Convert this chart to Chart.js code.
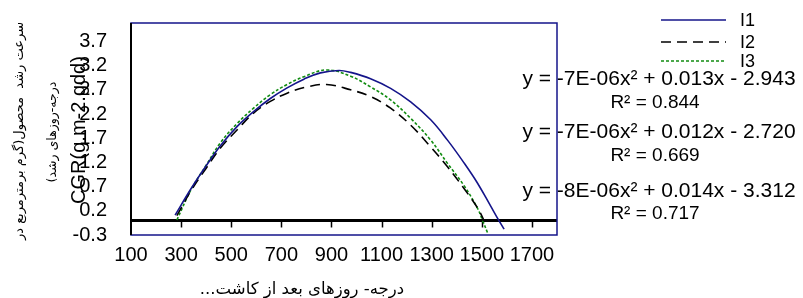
<!DOCTYPE html>
<html>
<head>
<meta charset="utf-8">
<script src="https://cdn.jsdelivr.net/npm/chart.js@4"></script>
<style>
  html, body { margin: 0; padding: 0; background: #fff; }
  #wrap { width: 803px; height: 298px; }
</style>
</head>
<body>
<div id="wrap"><canvas id="cgrChart" width="803" height="298"></canvas></div>
<script>
// values (growing degree days vs CGR)
const i1X = [276, 340, 400, 456, 523, 589, 656, 723, 790, 856, 930, 976, 1056, 1136, 1216, 1296, 1363, 1429, 1483, 1536, 1569, 1589];
const i1Y = [0.11, 0.66, 1.13, 1.54, 1.94, 2.25, 2.52, 2.74, 2.92, 3.05, 3.10, 3.06, 2.93, 2.73, 2.45, 2.08, 1.66, 1.19, 0.77, 0.29, -0.01, -0.18];

const i2X = [283, 340, 400, 456, 523, 589, 656, 723, 803, 880, 976, 1056, 1136, 1216, 1296, 1363, 1429, 1483, 1505, 1521];
const i2Y = [0.10, 0.62, 1.08, 1.49, 1.87, 2.22, 2.46, 2.63, 2.76, 2.81, 2.70, 2.56, 2.32, 1.97, 1.52, 1.11, 0.66, 0.26, 0.04, -0.14];

const i3X = [283, 340, 400, 456, 523, 589, 656, 723, 790, 880, 976, 1056, 1136, 1216, 1296, 1363, 1429, 1483, 1503, 1525];
const i3Y = [0.01, 0.64, 1.14, 1.60, 2.00, 2.32, 2.60, 2.81, 2.97, 3.11, 2.98, 2.76, 2.49, 2.11, 1.66, 1.18, 0.72, 0.25, 0.00, -0.28];

const seriesNames = ["I1", "I2", "I3"];
const equations = [
  "y = -7E-06x\u00B2 + 0.013x - 2.943",
  "y = -7E-06x\u00B2 + 0.012x - 2.720",
  "y = -8E-06x\u00B2 + 0.014x - 3.312"
];
const rSquared = ["R\u00B2 = 0.844", "R\u00B2 = 0.669", "R\u00B2 = 0.717"];

const xTicks = [100, 300, 500, 700, 900, 1100, 1300, 1500, 1700];
const xTickLabels = ["100", "300", "500", "700", "900", "1100", "1300", "1500", "1700"];
const yTicks = [-0.3, 0.2, 0.7, 1.2, 1.7, 2.2, 2.7, 3.2, 3.7];
const yTickLabels = ["-0.3", "0.2", "0.7", "1.2", "1.7", "2.2", "2.7", "3.2", "3.7"];

const yTitle = "CGR(g.m-2.gdd)";
const yTitleFa1 = "سرعت رشد  محصول(گرم برمترمربع در";
const yTitleFa2 = "درجه-روزهای رشد)";
const xTitleFa = "درجه- روزهای بعد از کاشت...";

const navy = "#14148a";
const green = "#118c11";
const sans = "'Liberation Sans', Arial, sans-serif";

function pts(xs, ys) {
  return xs.map((x, i) => ({ x: x, y: ys[i] }));
}

const lineStyles = [
  { color: navy, dash: [], width: 1.6 },
  { color: "#000", dash: [10, 6], width: 1.6 },
  { color: green, dash: [3, 2], width: 1.6 }
];

// frame, zero line, titles, legend and equations
const extras = {
  id: "extras",
  beforeDatasetsDraw(chart) {
    const ctx = chart.ctx;
    const a = chart.chartArea;
    const x = chart.scales.x, y = chart.scales.y;
    const y0 = y.getPixelForValue(0);
    ctx.save();
    ctx.strokeStyle = "#000";
    ctx.lineWidth = 3;
    ctx.beginPath();
    ctx.moveTo(a.left, y0);
    ctx.lineTo(a.right, y0);
    ctx.stroke();
    ctx.lineWidth = 1.5;
    xTicks.forEach(v => {
      if (v === 100) return;
      const px = Math.round(x.getPixelForValue(v)) + 0.5;
      ctx.beginPath();
      ctx.moveTo(px, y0);
      ctx.lineTo(px, y0 + 7);
      ctx.stroke();
    });
    ctx.restore();
  },
  afterDraw(chart) {
    const ctx = chart.ctx;
    const a = chart.chartArea;
    ctx.save();

    // equations
    ctx.fillStyle = "#000";
    ctx.textAlign = "center";
    ctx.textBaseline = "middle";
    const eqY = [79, 132, 191];
    const rY = [103, 156, 214];
    for (let i = 0; i < 3; i++) {
      ctx.font = "21px " + sans;
      ctx.fillText(equations[i], 659, eqY[i]);
      ctx.font = "19px " + sans;
      ctx.fillText(rSquared[i], 655, rY[i]);
    }

    // plot border
    ctx.strokeStyle = navy;
    ctx.lineWidth = 1.5;
    ctx.strokeRect(a.left, a.top, a.right - a.left, a.bottom - a.top);
    ctx.strokeStyle = "#000";
    ctx.lineWidth = 2;
    ctx.beginPath();
    ctx.moveTo(a.left, a.top);
    ctx.lineTo(a.left, a.bottom);
    ctx.stroke();

    // legend
    const legY = [20, 42, 61];
    ctx.textAlign = "left";
    ctx.font = "18px " + sans;
    for (let i = 0; i < 3; i++) {
      const s = lineStyles[i];
      ctx.strokeStyle = s.color;
      ctx.lineWidth = 1.6;
      ctx.setLineDash(s.dash);
      ctx.beginPath();
      ctx.moveTo(661, legY[i]);
      ctx.lineTo(726, legY[i]);
      ctx.stroke();
      ctx.setLineDash([]);
      ctx.fillStyle = "#000";
      ctx.fillText(seriesNames[i], 740, legY[i] + 1);
    }

    // axis titles
    ctx.fillStyle = "#000";
    ctx.textAlign = "center";
    ctx.font = "20px " + sans;
    ctx.save();
    ctx.translate(79, 130);
    ctx.rotate(-Math.PI / 2);
    ctx.fillText(yTitle, 0, 0);
    ctx.restore();

    ctx.direction = "rtl";
    ctx.font = "13px 'DejaVu Sans', sans-serif";
    ctx.save();
    ctx.translate(20, 131);
    ctx.rotate(-Math.PI / 2);
    ctx.fillText(yTitleFa1, 0, 0);
    ctx.restore();

    ctx.font = "12.5px 'DejaVu Sans', sans-serif";
    ctx.save();
    ctx.translate(53, 132);
    ctx.rotate(-Math.PI / 2);
    ctx.fillText(yTitleFa2, 0, 0);
    ctx.restore();

    ctx.font = "16.5px 'DejaVu Sans', sans-serif";
    ctx.fillText(xTitleFa, 302, 290);
    ctx.restore();
  }
};

new Chart("cgrChart", {
  type: "scatter",
  data: {
    datasets: [i1X, i2X, i3X].map((xs, i) => ({
      label: seriesNames[i],
      data: pts(xs, [i1Y, i2Y, i3Y][i]),
      showLine: true,
      borderColor: lineStyles[i].color,
      borderDash: lineStyles[i].dash,
      borderWidth: lineStyles[i].width,
      pointRadius: 0,
      tension: 0.4,
      fill: false
    }))
  },
  options: {
    responsive: false,
    animation: false,
    layout: { padding: { left: 0, right: 246, top: 23, bottom: 0 } },
    plugins: { legend: { display: false }, tooltip: { enabled: false } },
    scales: {
      x: {
        type: "linear",
        min: 100,
        max: 1800,
        grid: { display: false, drawTicks: false },
        border: { display: false },
        afterBuildTicks: s => { s.ticks = xTicks.map(v => ({ value: v })); },
        afterFit: s => { s.height = 63; s.paddingLeft = 0; s.paddingRight = 0; },
        ticks: {
          autoSkip: false,
          maxRotation: 0,
          padding: 8,
          color: "#000",
          font: { family: sans, size: 20 },
          callback: (v, i) => xTickLabels[i]
        }
      },
      y: {
        min: -0.3,
        max: 4.08,
        grid: { display: false, drawTicks: false },
        border: { display: false },
        afterBuildTicks: s => { s.ticks = yTicks.map(v => ({ value: v })); },
        afterFit: s => { s.width = 131; s.paddingTop = 0; s.paddingBottom = 0; },
        ticks: {
          autoSkip: false,
          padding: 24,
          color: "#000",
          font: { family: sans, size: 20 },
          callback: (v, i) => yTickLabels[i]
        }
      }
    }
  },
  plugins: [extras]
});
</script>
</body>
</html>
